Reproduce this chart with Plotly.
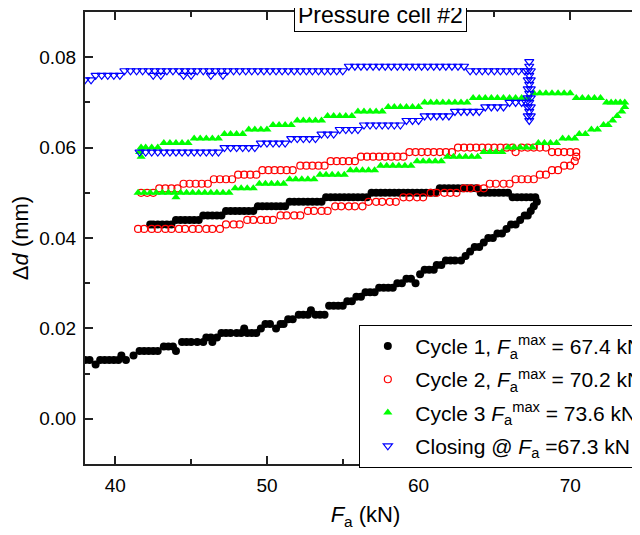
import plotly.graph_objects as go

# values: rows of (delta d in mm, [F_a in kN, ...])
cycle1_load = [
    (0.012, [38.7]),
    (0.013, [38.0, 38.3, 39.0, 39.3, 39.6, 39.9, 40.2, 40.7]),
    (0.014, [40.4, 41.2]),
    (0.015, [41.6, 41.9, 42.2, 42.5, 42.8, 44.0]),
    (0.016, [43.2, 43.5, 43.8]),
    (0.017, [44.4, 44.7, 45.0, 45.4, 45.8, 46.4]),
    (0.018, [46.0, 46.3, 46.7]),
    (0.019, [47.0, 47.3, 47.6, 48.0, 48.3, 48.7, 49.0, 49.3]),
    (0.020, [48.5, 49.6, 50.6]),
    (0.021, [49.9, 50.2, 50.9, 51.1]),
    (0.022, [51.4, 51.7]),
    (0.023, [52.1, 52.4, 52.7, 53.2, 53.5, 53.8]),
    (0.024, [52.9]),
    (0.025, [54.1, 54.4, 54.7, 55.0]),
    (0.026, [55.3, 55.6]),
    (0.027, [55.9, 56.2]),
    (0.028, [56.5, 56.8, 57.1]),
    (0.029, [57.4, 57.7, 58.0, 58.3]),
    (0.030, [58.6, 58.9, 59.8]),
    (0.031, [59.2, 59.5]),
    (0.032, [60.1]),
    (0.033, [60.4, 60.7, 61.0]),
    (0.034, [61.2, 61.5]),
    (0.035, [61.8, 62.1, 62.4, 62.8]),
    (0.036, [63.1]),
    (0.037, [63.4]),
    (0.038, [63.7, 64.0]),
    (0.039, [64.3]),
    (0.040, [64.6, 64.9]),
    (0.041, [65.2, 65.5]),
    (0.042, [65.8]),
    (0.043, [66.1, 66.4]),
    (0.044, [66.7]),
    (0.045, [67.0, 67.2]),
    (0.046, [67.4]),
    (0.047, [67.6]),
    (0.048, [67.8]),
]
cycle1_unload = [
    (0.049, [67.7, 67.4, 67.1, 66.8, 66.5, 66.2]),
    (0.050, [65.9, 65.6, 65.3, 65.0, 64.7, 64.4, 64.1]),
    (0.051, [63.8, 63.5, 63.2, 62.9, 62.6, 62.3, 62.0, 61.7, 61.4]),
    (0.050, [61.1, 60.8, 60.5, 60.2, 59.9, 59.6, 59.3, 59.0, 58.7, 58.4,
             58.1, 57.8, 57.5, 57.2, 56.9]),
    (0.049, [56.6, 56.3, 56.0, 55.7, 55.4, 55.1, 54.8, 54.5, 54.2, 53.9]),
    (0.048, [53.6, 53.3, 53.0, 52.7, 52.4, 52.1, 51.8, 51.5]),
    (0.047, [51.2, 50.9, 50.6, 50.3, 50.0, 49.7, 49.4]),
    (0.046, [49.1, 48.8, 48.5, 48.2, 47.9, 47.6, 47.3]),
    (0.045, [47.0, 46.7, 46.4, 46.1, 45.8]),
    (0.044, [45.5, 45.2, 44.9, 44.6, 44.3, 44.0]),
    (0.043, [43.7, 43.4, 43.1, 42.8, 42.5, 42.3]),
]

cycle2_load = [
    (0.042, [41.5, 41.9, 42.4, 42.8, 43.3, 43.7, 44.2, 44.6, 45.1, 45.5,
             46.0, 46.4, 46.9]),
    (0.043, [47.3, 47.8, 48.2]),
    (0.044, [48.7, 49.1, 49.6, 50.0, 50.4]),
    (0.045, [50.9, 51.3, 51.8, 52.2]),
    (0.046, [52.7, 53.1, 53.6, 54.0]),
    (0.047, [54.5, 54.9, 55.4, 55.8, 56.3]),
    (0.048, [56.7, 57.2, 57.6, 58.1, 58.5]),
    (0.049, [59.0, 59.4, 59.9, 60.3]),
    (0.050, [60.8, 61.2, 61.7, 62.1, 62.5]),
    (0.051, [63.0, 63.4, 63.9, 64.3]),
    (0.052, [64.7, 65.1, 65.6, 66.0]),
    (0.053, [66.4, 66.8, 67.2, 67.6]),
    (0.054, [68.0, 68.4]),
    (0.055, [68.8, 69.2]),
    (0.056, [69.6, 70.0]),
    (0.057, [70.3]),
    (0.058, [70.4]),
]
cycle2_unload = [
    (0.059, [70.4, 70.0, 69.6, 69.2, 68.8, 66.4]),
    (0.060, [68.4, 68.0, 67.6, 67.2, 66.8, 66.2, 65.8, 65.4, 65.0, 64.6,
             64.2, 63.8, 63.4, 63.0, 62.6]),
    (0.059, [62.2, 61.8, 61.4, 61.0, 60.6, 60.2, 59.8, 59.4]),
    (0.058, [59.0, 58.6, 58.2, 57.8, 57.4, 57.0, 56.6, 56.2]),
    (0.057, [55.8, 55.4, 55.0, 54.6, 54.2]),
    (0.056, [53.8, 53.4, 53.0, 52.6, 52.2]),
    (0.055, [51.7, 51.3, 50.9, 50.5, 50.1, 49.7]),
    (0.054, [49.3, 48.9, 48.5, 48.1]),
    (0.053, [47.7, 47.3, 46.9, 46.5]),
    (0.052, [46.1, 45.7, 45.3, 44.9, 44.5]),
    (0.051, [44.1, 43.7, 43.3, 42.9]),
    (0.050, [42.5, 42.1, 41.7]),
]

cycle3_load = [
    (0.050, [41.5, 41.9, 42.3, 42.7, 43.1, 43.5, 43.9, 44.3, 44.7, 45.1,
             45.5, 45.9, 46.3, 46.7, 47.1, 47.5]),
    (0.049, [44.0]),
    (0.051, [47.9, 48.3, 48.7, 49.1]),
    (0.052, [49.5, 49.9, 50.3, 50.7, 51.1]),
    (0.053, [51.5, 51.9, 52.3, 52.7, 53.1]),
    (0.054, [53.5, 53.9, 54.3, 54.7, 55.1]),
    (0.055, [55.5, 55.9, 56.3, 56.7, 57.1]),
    (0.056, [57.5, 57.9, 58.3, 58.7, 59.1, 59.5]),
    (0.057, [59.9, 60.3, 60.7, 61.1, 61.5]),
    (0.058, [61.9, 62.3, 62.7, 63.1, 63.5, 63.9]),
    (0.059, [64.3, 64.7, 65.1, 65.5]),
    (0.060, [65.9, 66.3, 66.7, 67.1, 67.5]),
    (0.061, [67.9, 68.3, 68.7, 69.1]),
    (0.062, [69.5, 69.9, 70.3]),
    (0.063, [70.6, 71.0]),
    (0.064, [71.4, 71.8]),
    (0.065, [72.2, 72.5]),
    (0.066, [72.8]),
    (0.067, [73.1]),
    (0.068, [73.4]),
    (0.069, [73.6]),
]
cycle3_unload = [
    (0.070, [73.6, 73.3, 73.0, 72.7, 72.4]),
    (0.071, [72.0, 71.6, 71.2, 70.8, 70.4]),
    (0.072, [70.0, 69.6, 69.2, 68.8, 68.4, 68.0, 67.6]),
    (0.071, [67.2, 66.8, 66.4, 66.0, 65.6, 65.2, 64.8, 64.4, 64.0, 63.6]),
    (0.070, [63.2, 62.8, 62.4, 62.0, 61.6, 61.2, 60.8, 60.4]),
    (0.069, [60.0, 59.6, 59.2, 58.8, 58.4, 58.0]),
    (0.068, [57.6, 57.2, 56.8, 56.4, 56.0]),
    (0.067, [55.6, 55.2, 54.8, 54.4, 54.0]),
    (0.066, [53.6, 53.2, 52.8, 52.4, 52.0]),
    (0.065, [51.6, 51.2, 50.8, 50.4]),
    (0.064, [50.0, 49.6, 49.2, 48.8]),
    (0.063, [48.4, 48.0, 47.6, 47.2]),
    (0.062, [46.8, 46.4, 46.0, 45.6, 45.2]),
    (0.061, [44.8, 44.4, 44.0, 43.6, 43.2]),
    (0.060, [42.8, 42.4, 42.0, 41.7]),
    (0.059, [41.6]),
    (0.058, [41.7]),
]

closing_load = [
    (0.059, [41.6, 42.0, 42.4, 42.8, 43.2, 43.6, 44.0, 44.4, 44.8, 45.2,
             45.6, 46.0, 46.4, 46.8]),
    (0.060, [47.2, 47.6, 48.0, 48.4, 48.8, 49.2]),
    (0.061, [49.6, 50.0, 50.4, 50.8, 51.2]),
    (0.062, [51.6, 52.0, 52.4, 52.8, 53.2]),
    (0.063, [53.6, 54.0, 54.4]),
    (0.064, [54.8, 55.2, 55.6, 56.0]),
    (0.065, [56.4, 56.8, 57.2, 57.6, 58.0, 58.4, 58.8]),
    (0.066, [59.2, 59.6, 60.0]),
    (0.067, [60.4, 60.8, 61.2, 61.6, 62.0]),
    (0.068, [62.4, 62.8, 63.2, 63.6, 64.0]),
    (0.069, [64.4, 64.8, 65.2, 65.6]),
    (0.070, [66.0, 66.4, 66.8, 67.1]),
]
closing_hold = [
    (0.066, [67.3]),
    (0.067, [67.2, 67.4]),
    (0.068, [67.3]),
    (0.069, [67.2, 67.4]),
    (0.070, [67.3]),
    (0.071, [67.2, 67.4]),
    (0.072, [67.3]),
    (0.073, [67.2, 67.4]),
    (0.074, [67.3]),
    (0.075, [67.2, 67.4]),
    (0.076, [67.3]),
    (0.077, [67.2, 67.4]),
    (0.078, [67.3]),
    (0.079, [67.3]),
]
closing_unload = [
    (0.077, [67.0, 66.6, 66.2, 65.8, 65.4, 65.0, 64.6, 64.2, 63.8, 63.4]),
    (0.078, [63.0, 62.6, 62.2, 61.8, 61.4, 61.0, 60.6, 60.2, 59.8, 59.4,
             59.0, 58.6, 58.2, 57.8, 57.4, 57.0, 56.6, 56.2, 55.8, 55.4]),
    (0.077, [55.0, 54.6, 54.2, 53.8, 53.4, 53.0, 52.6, 52.2, 51.8, 51.4,
             51.0, 50.6, 50.2, 49.8, 49.4, 49.0, 48.6, 48.2, 47.8, 47.4,
             47.0, 46.6, 46.2, 45.8, 45.4, 45.0, 44.6, 44.2, 43.8, 43.4,
             43.0, 42.6, 42.2, 41.8, 41.4, 41.0, 40.6]),
    (0.076, [42.5, 43.0, 44.5, 45.0, 46.3, 47.1]),
    (0.076, [40.3, 39.9, 39.5, 39.1, 38.7]),
    (0.075, [38.4, 38.0]),
]

names = [
    "Cycle 1, <i>F</i><sub>a</sub><sup>max</sup> = 67.4 kN",
    "Cycle 2, <i>F</i><sub>a</sub><sup>max</sup> = 70.2 kN",
    "Cycle 3 <i>F</i><sub>a</sub><sup>max</sup> = 73.6 kN",
    "Closing @ <i>F</i><sub>a</sub> =67.3 kN",
]


def unpack(*parts):
    f, d = [], []
    for rows in parts:
        for level, forces in rows:
            f += forces
            d += [level] * len(forces)
    return f, d


data = [
    unpack(cycle1_load, cycle1_unload),
    unpack(cycle2_load, cycle2_unload),
    unpack(cycle3_load, cycle3_unload),
    unpack(closing_load, closing_hold, closing_unload),
]
markers = [
    dict(symbol="circle", size=8, color="black"),
    dict(symbol="circle-open", size=7, color="#ff0000", line=dict(width=1.2)),
    dict(symbol="triangle-up", size=8, color="#00ff00"),
    dict(symbol="triangle-down-open", size=8, color="#0000ff", line=dict(width=1.2)),
]

fig = go.Figure()
for i, ((f, d), marker) in enumerate(zip(data, markers)):
    fig.add_trace(go.Scatter(x=f, y=d, mode="markers", marker=marker,
                             name=names[i], legendgroup=str(i)))

axis_style = dict(
    showline=True, linecolor="#222", linewidth=2, mirror="ticks",
    ticks="inside", ticklen=8, tickwidth=1.5, tickcolor="#222",
    showgrid=False, zeroline=False,
)

# page has an 8px body margin, so the figure is shifted by 8px right and down
fig.update_layout(
    width=700, height=527,
    margin=dict(l=77, r=62, t=2, b=71),
    paper_bgcolor="white", plot_bgcolor="white",
    font=dict(family="Liberation Sans, Arial, sans-serif", size=19, color="black"),
    xaxis=dict(range=[38, 75], dtick=10, tick0=0, ticklabelstandoff=3,
               minor=dict(dtick=5, ticks="inside", ticklen=5, tickwidth=1.5, tickcolor="#222"),
               title=dict(text="<i>F</i><sub>a</sub> (kN)", font=dict(size=22), standoff=12),
               **axis_style),
    yaxis=dict(range=[-0.01, 0.09], dtick=0.02, tick0=0, tickformat=".2f",
               ticklabelstandoff=3,
               minor=dict(dtick=0.01, ticks="inside", ticklen=5, tickwidth=1.5, tickcolor="#222"),
               title=dict(text="Δ<i>d</i> (mm)", font=dict(size=22), standoff=6),
               **axis_style),
    legend=dict(x=0.489, y=0.308, xanchor="left", yanchor="top",
                bordercolor="black", borderwidth=1, bgcolor="white",
                font=dict(size=21), tracegroupgap=3, itemwidth=45),
    annotations=[dict(text="Pressure cell #2", x=0.527, y=0.994, xref="paper", yref="paper",
                      xanchor="center", yanchor="middle", showarrow=False,
                      font=dict(size=23), bgcolor="white", bordercolor="black",
                      borderwidth=1, borderpad=3)],
)

fig.write_html("out.html")
